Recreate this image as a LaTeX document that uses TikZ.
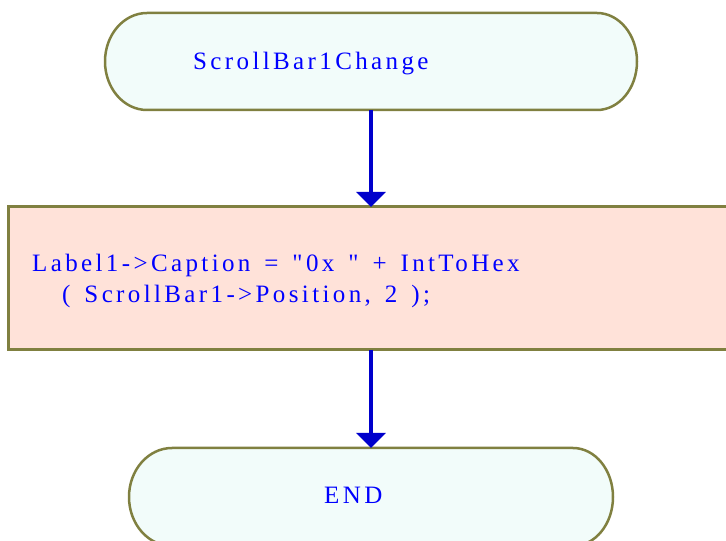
\documentclass[tikz,border=0pt]{standalone}
\usepackage{fontspec}
% plain mapping, so straight quotes stay straight
\newfontfamily\flowfont{Liberation Serif}[LetterSpace=13.5, WordSpace=1.45]
\usetikzlibrary{arrows.meta,calc}

\definecolor{termfill}{RGB}{242,252,250}
\definecolor{procfill}{RGB}{255,226,217}
\definecolor{edgeolive}{RGB}{128,128,64}
\definecolor{labelblue}{RGB}{0,0,255}
\definecolor{flowblue}{RGB}{0,0,204}

\tikzset{
  frame/.style={draw=none, inner sep=0pt, outer sep=0pt, rectangle},
  termline/.style={draw=edgeolive, line width=2.5pt, fill=termfill, line join=round},
  procline/.style={draw=edgeolive, line width=3pt, fill=procfill},
  lbl/.style={anchor=base west, inner sep=0pt, text=labelblue,
    font=\flowfont\fontsize{25}{31}\selectfont},
  flow/.style={draw=flowblue, line width=4.5pt,
    -{Triangle[width=29pt,length=15pt]}}
}

\begin{document}
\begin{tikzpicture}[x=1pt,y=1pt]
  \useasboundingbox (0,0) rectangle (726,541);

  % geometry of the three blocks
  \node[frame, minimum width=532pt, minimum height=97pt] (start) at (371,479.5) {};
  \node[frame, minimum width=732pt, minimum height=143pt] (proc) at (374,262.5) {};
  \node[frame, minimum width=484pt, minimum height=98pt] (stop) at (371,44) {};

  % start terminal
  \draw[termline] ([xshift=42pt]start.north west) -- ([xshift=-40pt]start.north east)
    arc[start angle=90, end angle=-90, x radius=40pt, y radius=48.5pt]
    -- ([xshift=42pt]start.south west)
    arc[start angle=270, end angle=90, x radius=42pt, y radius=48.5pt] -- cycle;

  % process box
  \draw[procline] (proc.south west) rectangle (proc.north east);

  % end terminal
  \draw[termline] ([xshift=43pt]stop.north west) -- ([xshift=-40pt]stop.north east)
    arc[start angle=90, end angle=-90, x radius=40pt, y radius=49pt]
    -- ([xshift=43pt]stop.south west)
    arc[start angle=270, end angle=90, x radius=43pt, y radius=49pt] -- cycle;

  % labels
  \node[lbl] (startlbl) at (193,471) {ScrollBar1Change};
  \node[lbl] (proclbla) at (32,269) {Label1->Caption = "0x " + IntToHex};
  \node[lbl] (proclblb) at (62,238) {( ScrollBar1->Position, 2 );};
  \node[lbl] (stoplbl) at (324,37) {END};

  % connectors
  \draw[flow] (start.south) -- (start.south |- proc.north);
  \draw[flow] (stop.north |- proc.south) -- (stop.north);
\end{tikzpicture}
\end{document}
